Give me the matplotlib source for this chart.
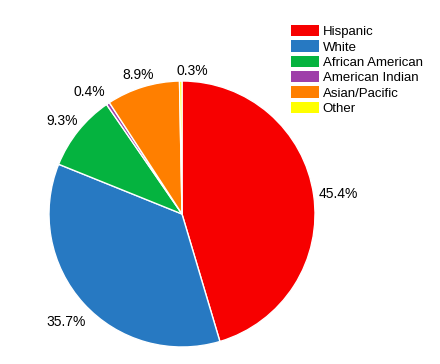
import matplotlib
matplotlib.use("Agg")
import matplotlib.pyplot as plt
import numpy as np
from matplotlib.patches import Patch

plt.rcParams["font.family"] = ["Liberation Sans", "DejaVu Sans"]

groups = ["Hispanic", "White", "African American", "American Indian", "Asian/Pacific", "Other"]
shares = [45.4, 35.7, 9.3, 0.4, 8.9, 0.3]
colors = ["#F70000", "#2779C2", "#05B33F", "#9E3FA9", "#FF7F00", "#FFFF00"]

fig = plt.figure(figsize=(4.4, 3.64), dpi=100)
W, H = 440, 364
cx, cy, r = 182, 214, 133
ax = fig.add_axes([(cx - r) / W, (H - cy - r) / H, 2 * r / W, 2 * r / H])

wedges, texts = ax.pie(
    shares,
    colors=colors,
    startangle=90,
    counterclock=False,
    labels=[f"{v}%" for v in shares],
    labeldistance=1.1,
    wedgeprops=dict(edgecolor="white", linewidth=1),
    textprops=dict(fontsize=10, ha="center", va="center"),
)
ax.set_xlim(-1, 1)
ax.set_ylim(-1, 1)
ax.set_aspect("equal")

# push each label so its box sits just outside the rim
fig.canvas.draw()
renderer = fig.canvas.get_renderer()
px = r  # pixels per data unit
gap = 4
for w, t in zip(wedges, texts):
    ang = np.deg2rad((w.theta1 + w.theta2) / 2)
    ux, uy = np.cos(ang), np.sin(ang)
    bb = t.get_window_extent(renderer)
    off = (bb.width / 2) * abs(ux) + (bb.height / 2) * abs(uy)
    d = (px + gap + off) / px
    t.set_position((d * ux, d * uy - 0.02))
# small nudges for the two thin slices near the top, like the original
texts[5].set_position((texts[5].get_position()[0] + 0.09, texts[5].get_position()[1] + 0.01))
texts[3].set_position((texts[3].get_position()[0] - 0.06, texts[3].get_position()[1] - 0.01))

handles = [Patch(facecolor=c, edgecolor="none") for c in colors]
fig.legend(handles, groups, loc="upper left", bbox_to_anchor=(291 / W, 1 - 25 / H),
           frameon=False, fontsize=9.5, handlelength=2.1, handleheight=0.95,
           labelspacing=0.16, handletextpad=0.3, borderpad=0, borderaxespad=0)

fig.savefig("out.png", dpi=100)
